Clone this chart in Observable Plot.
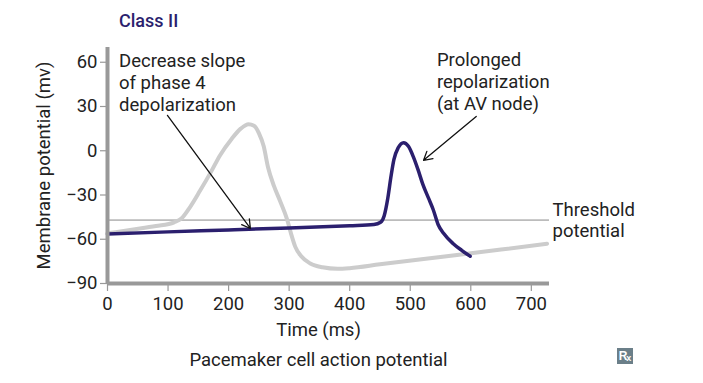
<!DOCTYPE html>
<html>
<head>
<meta charset="utf-8">
<script src="https://cdn.jsdelivr.net/npm/d3@7"></script>
<script src="https://cdn.jsdelivr.net/npm/@observablehq/plot@0.6"></script>
<style>
  html, body { margin: 0; padding: 0; background: #fff; }
  #wrap { position: relative; width: 703px; height: 383px; overflow: hidden;
          font-family: Roboto, sans-serif; }
  #title { position: absolute; left: 119px; top: 12px; font-size: 18px; line-height: 18px;
           font-weight: 500; color: #2b1f6e; white-space: nowrap; }
  #rx { position: absolute; left: 617px; top: 348px; width: 16px; height: 16px;
        background: #6b7f89; color: #fff; font-family: "Liberation Sans", sans-serif;
        font-weight: bold; font-size: 12px; line-height: 16px; text-align: center; }
  #rx sub { font-size: 9px; vertical-align: -1px; margin-left: -1px; }
  #chart { position: absolute; left: 0; top: 0; }
</style>
</head>
<body>
<div id="wrap">
  <div id="chart"></div>
  <div id="title">Class II</div>
  <div id="rx">R<sub>x</sub></div>
</div>
<script>
// ---- data ----
const normalTime = [0, 40, 80, 110, 122, 135, 153, 170, 186, 205, 220, 233, 242, 250, 258, 265, 275, 285, 297, 303, 310, 320, 335, 355, 380, 400, 450, 550, 650, 726];
const normalMv   = [-56, -53.5, -51, -48.5, -46, -39, -27, -15, -3, 8, 15, 18, 17, 12, 3, -11, -24, -34, -47, -56, -65, -71.5, -76.5, -79, -80, -79.6, -77, -72, -67, -63];

const classIITime = [0, 100, 200, 300, 400, 440, 451, 457, 463, 468, 473, 480, 489, 497, 505, 513, 521, 530, 538, 546, 555, 571, 585, 599];
const classIIMv   = [-56.5, -55, -53.7, -52.3, -50.8, -50, -48.5, -44, -32, -18, -6, 2, 5.5, 3, -4, -13, -23, -32, -40, -50, -56, -63, -67.5, -71.5];

const thresholdMv = -47;

const xTicks = [0, 100, 200, 300, 400, 500, 600, 700];
const yTicks = [60, 30, 0, -30, -60, -90];

const annoText = ["Decrease slope\nof phase 4\ndepolarization", "Prolonged\nrepolarization\n(at AV node)", "Threshold\npotential"];
const annoX    = [19, 544, 735];
const annoY    = [67.2, 68.0, -33.8];
const annoLineHeight = [1.18, 1.18, 1.16];

const arrowX1 = [99, 609];
const arrowY1 = [24, 23.3];
const arrowX2 = [236, 522];
const arrowY2 = [-52.7, -6.5];

const xLabel = "Time (ms)";
const yLabel = "Membrane potential (mv)";
const caption = "Pacemaker cell action potential";

// ---- build tables ----
const normal = normalTime.map((t, i) => ({t, v: normalMv[i]}));
const classII = classIITime.map((t, i) => ({t, v: classIIMv[i]}));
const annos = annoText.map((s, i) => ({s, x: annoX[i], y: annoY[i], lh: annoLineHeight[i]}));
const arrows = arrowX1.map((x1, i) => ({x1, y1: arrowY1[i], x2: arrowX2[i], y2: arrowY2[i]}));

const FONT = "Roboto, sans-serif";
const FS = 18.5;
const purple = "#2b1f6e";

const plot = Plot.plot({
  width: 703,
  height: 383,
  marginLeft: 107,
  marginRight: 154,
  marginTop: 47,
  marginBottom: 100,
  style: {fontFamily: FONT, fontSize: FS + "px", color: "#222", background: "#fff"},
  x: {domain: [0, 730], axis: null},
  y: {domain: [-90, 70], axis: null},
  marks: [
    Plot.axisX({ticks: xTicks, tickSize: 8, tickPadding: 5, stroke: "#999", strokeWidth: 1.2, fill: "#222", fontSize: FS, label: null, tickFormat: d => d}),
    Plot.axisY({ticks: yTicks, tickSize: 7, tickPadding: 3, stroke: "#999", strokeWidth: 1.2, fill: "#222", fontSize: FS, label: null}),
    Plot.ruleY([thresholdMv], {stroke: "#888", strokeWidth: 1}),
    Plot.line(normal, {x: "t", y: "v", stroke: "#cccccc", strokeWidth: 4, curve: "monotone-x"}),
    Plot.line(classII, {x: "t", y: "v", stroke: purple, strokeWidth: 3.5, curve: "monotone-x"}),
    Plot.ruleX([0], {stroke: "#999", strokeWidth: 4}),
    Plot.ruleY([-90], {stroke: "#999", strokeWidth: 4}),
    Plot.arrow(arrows, {x1: "x1", y1: "y1", x2: "x2", y2: "y2", stroke: "#111", strokeWidth: 1.3, headLength: 11, insetEnd: 0, insetStart: 0}),
    ...annos.map(a => Plot.text([a], {x: "x", y: "y", text: "s", textAnchor: "start", lineAnchor: "top", lineHeight: a.lh, fontSize: FS, fill: "#222"})),
    Plot.text([yLabel], {frameAnchor: "left", text: d => d, rotate: -90, dx: -63, textAnchor: "middle", lineAnchor: "middle", fontSize: FS, fill: "#222"}),
    Plot.text([xLabel], {frameAnchor: "bottom", text: d => d, dx: -10, dy: 47, textAnchor: "middle", lineAnchor: "middle", fontSize: FS, fill: "#222"}),
    Plot.text([caption], {frameAnchor: "bottom", text: d => d, dx: -10, dy: 77, textAnchor: "middle", lineAnchor: "middle", fontSize: FS, fill: "#222"})
  ]
});
document.getElementById("chart").appendChild(plot);
</script>
</body>
</html>
